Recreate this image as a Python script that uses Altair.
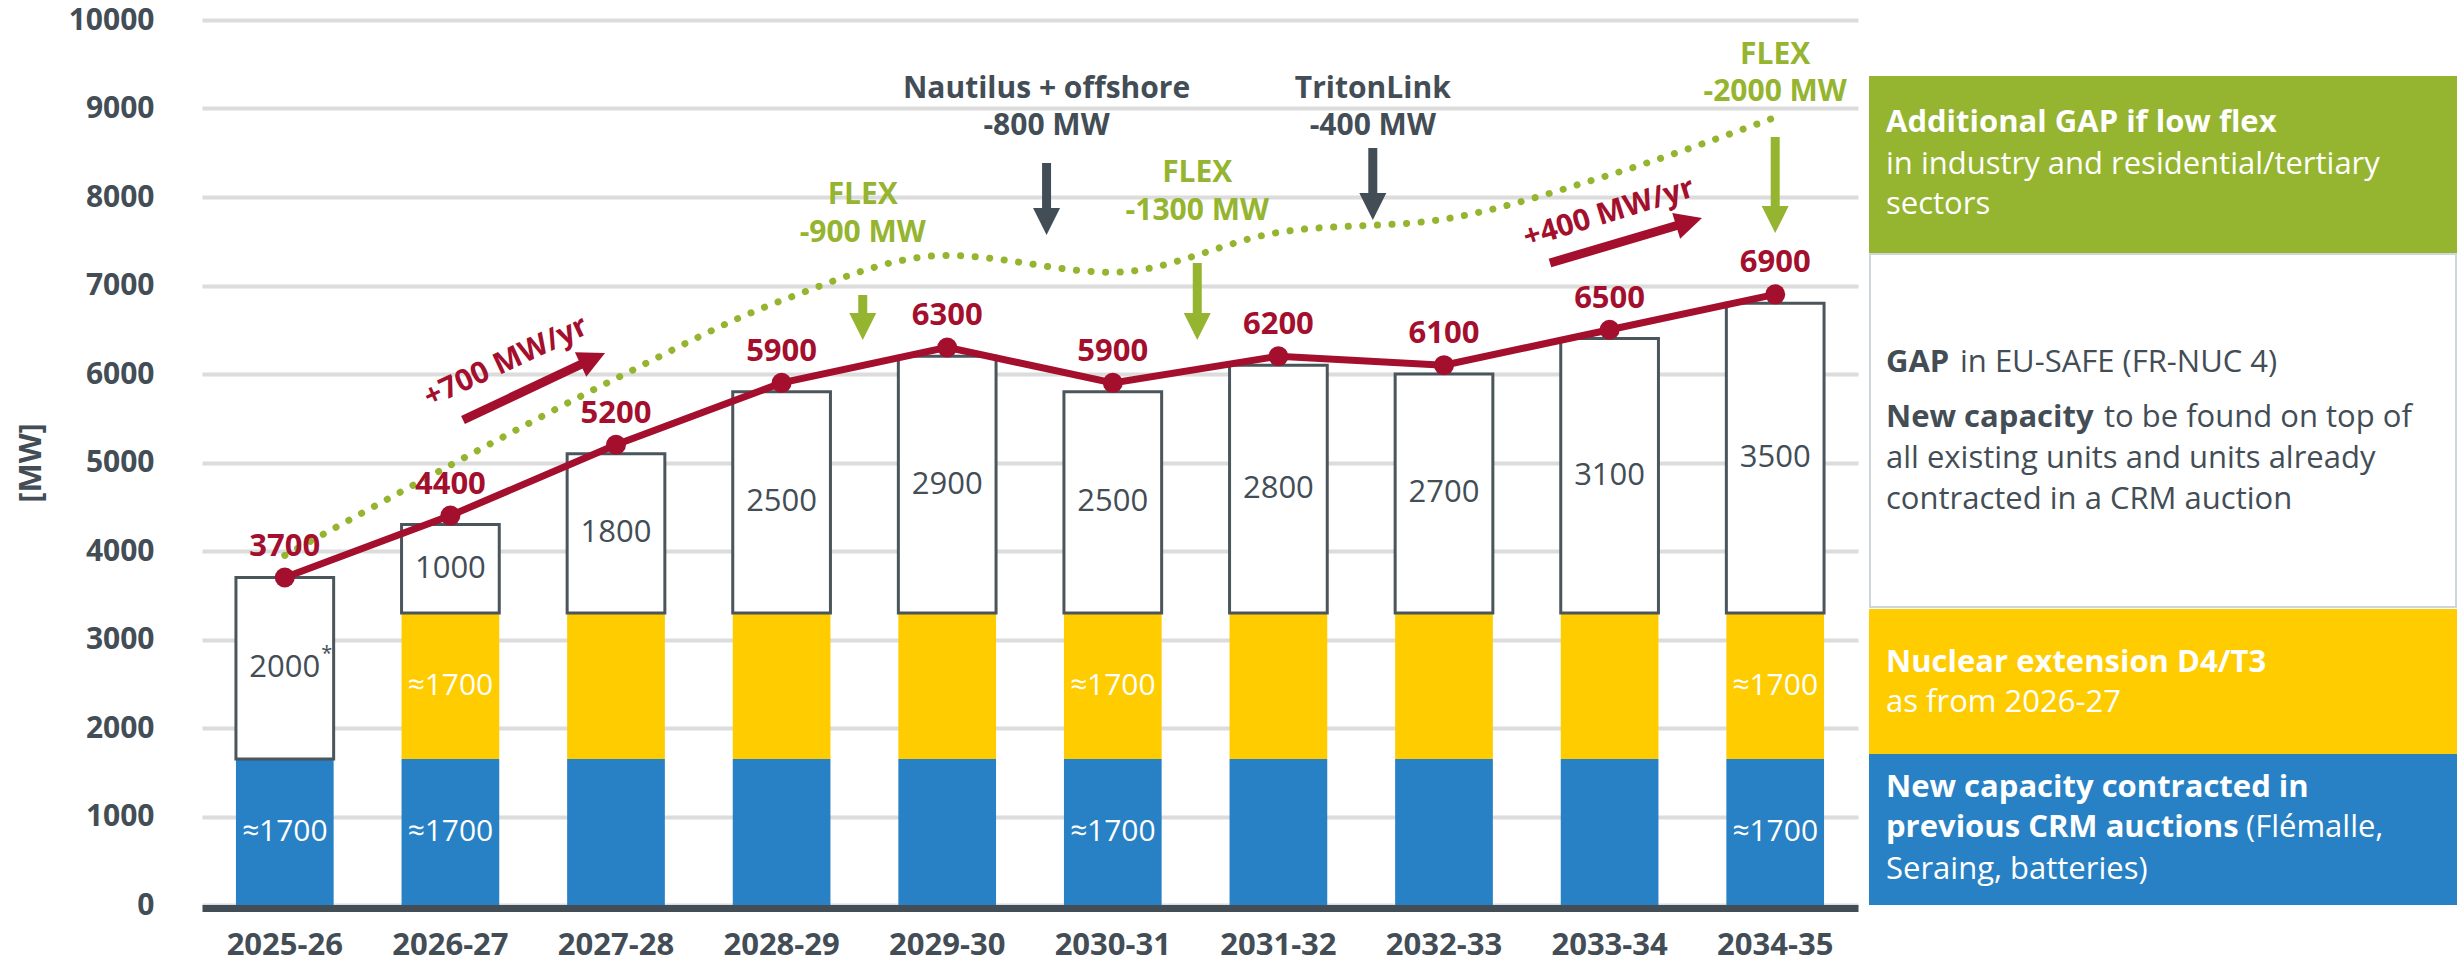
import altair as alt
import pandas as pd

# ---------------- data ----------------
years = ["2025-26", "2026-27", "2027-28", "2028-29", "2029-30",
         "2030-31", "2031-32", "2032-33", "2033-34", "2034-35"]
contracted_mw = [1650, 1650, 1650, 1650, 1650, 1650, 1650, 1650, 1650, 1650]
nuclear_mw = [0, 1650, 1650, 1650, 1650, 1650, 1650, 1650, 1650, 1650]
gap_mw = [2050, 1000, 1800, 2500, 2900, 2500, 2800, 2700, 3100, 3500]
gap_text = ["2000", "1000", "1800", "2500", "2900", "2500", "2800", "2700", "3100", "3500"]
total_gap = [3700, 4400, 5200, 5900, 6300, 5900, 6200, 6100, 6500, 6900]
low_flex_gap = [3950, 4970, 5950, 6830, 7340, 7150, 7600, 7750, 8250, 8900]
contracted_text_years = ["2025-26", "2026-27", "2030-31", "2034-35"]
nuclear_text_years = ["2026-27", "2030-31", "2034-35"]
approx_text = "≈1700"

# annotations: x in category-index units (0..10), y in MW
event_names = ["Nautilus + offshore", "TritonLink"]
event_mw = ["-800 MW", "-400 MW"]
event_x = [5.10, 7.07]
event_name_y = [9220, 9220]
event_mw_y = [8802, 8802]
event_arrow_top = [8384, 8554]
event_arrow_shaft_end = [7731, 7900]
event_arrow_tip = [7571, 7740]

flex_word = ["FLEX", "FLEX", "FLEX"]
flex_mw = ["-900 MW", "-1300 MW", "-2000 MW"]
flex_x = [3.99, 6.01, 9.5]
flex_word_y = [8020, 8271, 9605]
flex_mw_y = [7593, 7842, 9186]
flex_arrow_top = [6893, 7254, 8678]
flex_arrow_shaft_end = [6544, 6544, 7753]
flex_arrow_tip = [6384, 6384, 7593]

trend_text = ["+700 MW/yr", "+400 MW/yr"]
trend_text_x = [1.836, 8.496]
trend_text_y = [6136, 7819]
trend_start_x = [1.576, 8.140]
trend_start_y = [5480, 7254]
trend_shaft_end_x = [2.357, 8.977]
trend_shaft_end_y = [6169, 7718]
trend_tip_x = [2.434, 9.058]
trend_tip_y = [6237, 7763]

# ---------------- styles ----------------
FONT = "Open Sans"
DARK = "#434d56"
BLUE = "#2781c4"
YELLOW = "#ffcc00"
GREEN = "#95b42f"
RED = "#a30f2d"
OUTLINE = "#4b555c"

PLOT_W, PLOT_H = 1656, 885
PAD = {"left": 202, "top": 20, "right": 603, "bottom": 58}

# ---------------- tables ----------------
df = pd.DataFrame({
    "year": years, "contracted": contracted_mw, "nuclear": nuclear_mw,
    "gap": gap_mw, "gap_text": gap_text, "total": total_gap, "low_flex": low_flex_gap,
})
df["c0"] = 0
df["c1"] = df["contracted"]
df["n1"] = df["c1"] + df["nuclear"]
df["g1"] = df["n1"] + df["gap"]
df["c_mid"] = df["c1"] / 2
df["n_mid"] = (df["c1"] + df["n1"]) / 2
df["g_mid"] = (df["n1"] + df["g1"]) / 2
df["total_text"] = df["total"].astype(str)
df["approx"] = approx_text

y_scale = alt.Scale(domain=[0, 10000], nice=False, zero=True)
y_axis = alt.Axis(
    values=list(range(0, 10001, 1000)), format="d", grid=True, gridColor="#dcdcdc", gridWidth=4,
    domain=False, ticks=False, labelPadding=48, labelFont=FONT, labelFontWeight="bold",
    labelFontSize=30, labelColor=DARK, title="[MW]", titleFont=FONT, titleFontSize=31,
    titleFontWeight="bold", titleColor=DARK, titleAngle=270, titleX=-171, titleY=442.5,
    titleAlign="center", titleBaseline="middle",
)
x_axis = alt.Axis(
    title=None, labelAngle=0, ticks=False, grid=False, domainColor=DARK, domainWidth=7,
    offset=3, labelPadding=37, labelBaseline="middle", labelFont=FONT, labelFontSize=31,
    labelFontWeight="bold", labelColor=DARK, zindex=1,
)
x_enc = alt.X("year:N", sort=years, scale=alt.Scale(paddingInner=0.41, paddingOuter=0.205), axis=x_axis)


def Y(field):
    return alt.Y(f"{field}:Q", scale=y_scale, axis=y_axis)


base_chart = alt.Chart(df)
blue_bars = base_chart.mark_bar(color=BLUE).encode(x=x_enc, y=Y("c0"), y2="c1")
yellow_bars = alt.Chart(df[df["nuclear"] > 0]).mark_bar(color=YELLOW).encode(x=x_enc, y=Y("c1"), y2="n1")
gap_bars = base_chart.mark_bar(fill="white", stroke=OUTLINE, strokeWidth=3).encode(x=x_enc, y=Y("n1"), y2="g1")

txt = dict(font=FONT, fontSize=30, align="center", baseline="middle")
blue_text = alt.Chart(df[df["year"].isin(contracted_text_years)]).mark_text(color="white", **txt).encode(
    x=x_enc, y=Y("c_mid"), text="approx:N")
yellow_text = alt.Chart(df[df["year"].isin(nuclear_text_years)]).mark_text(color="white", **txt).encode(
    x=x_enc, y=Y("n_mid"), text="approx:N")
gap_labels = base_chart.mark_text(color=DARK, font=FONT, fontSize=31, align="center", baseline="middle").encode(
    x=x_enc, y=Y("g_mid"), text="gap_text:N")
asterisk = alt.Chart(df.iloc[:1]).mark_text(color=DARK, font=FONT, fontSize=20, dx=42, dy=-14).encode(
    x=x_enc, y=Y("g_mid"), text=alt.value("*"))

flex_line = base_chart.mark_line(color=GREEN, strokeWidth=7, strokeDash=[0.1, 14.5], strokeCap="round",
                                 interpolate="monotone").encode(x=x_enc, y=Y("low_flex"))
red_line = base_chart.mark_line(color=RED, strokeWidth=7).encode(x=x_enc, y=Y("total"))
red_points = base_chart.mark_circle(color=RED, size=400, opacity=1).encode(x=x_enc, y=Y("total"))
red_labels = base_chart.mark_text(color=RED, font=FONT, fontSize=31, fontWeight="bold", dy=-31,
                                  baseline="middle").encode(x=x_enc, y=Y("total"), text="total_text:N")

main = alt.layer(blue_bars, yellow_bars, gap_bars, blue_text, yellow_text, gap_labels, asterisk,
                 flex_line, red_line, red_points, red_labels)

# ---------------- annotations ----------------
u_scale = alt.Scale(domain=[0, 10], nice=False, zero=False)


def U(field):
    return alt.X(f"{field}:Q", scale=u_scale, axis=None)


ev = pd.DataFrame({"u": event_x, "name": event_names, "mw": event_mw, "ny": event_name_y, "my": event_mw_y,
                   "a0": event_arrow_top, "a1": event_arrow_shaft_end, "tip": event_arrow_tip})
fx = pd.DataFrame({"u": flex_x, "name": flex_word, "mw": flex_mw, "ny": flex_word_y, "my": flex_mw_y,
                   "a0": flex_arrow_top, "a1": flex_arrow_shaft_end, "tip": flex_arrow_tip})
tr = pd.DataFrame({"tx": trend_text_x, "ty": trend_text_y, "t": trend_text,
                   "sx": trend_start_x, "sy": trend_start_y, "ex": trend_shaft_end_x, "ey": trend_shaft_end_y,
                   "px": trend_tip_x, "py": trend_tip_y})

DOWN_HEAD = "M-1,-2L1,-2L0,0Z"
RIGHT_HEAD = "M-2,-1L-2,1L0,0Z"
note_txt = dict(font=FONT, fontSize=30, fontWeight="bold", align="center", baseline="middle")

annots = []
for frame, col in ((ev, DARK), (fx, GREEN)):
    c = alt.Chart(frame)
    annots.append(c.mark_text(color=col, **note_txt).encode(x=U("u"), y=Y("ny"), text="name:N"))
    annots.append(c.mark_text(color=col, **note_txt).encode(x=U("u"), y=Y("my"), text="mw:N"))
    annots.append(c.mark_rule(color=col, strokeWidth=9).encode(x=U("u"), y=Y("a0"), y2="a1"))
    annots.append(c.mark_point(shape=DOWN_HEAD, filled=True, size=729, color=col, opacity=1).encode(
        x=U("u"), y=Y("tip")))

for i, ang in enumerate((25, 17)):
    c = alt.Chart(tr.iloc[i:i + 1])
    annots.append(c.mark_text(color=RED, angle=360 - ang, **note_txt).encode(x=U("tx"), y=Y("ty"), text="t:N"))
    annots.append(c.mark_rule(color=RED, strokeWidth=9).encode(x=U("sx"), x2="ex", y=Y("sy"), y2="ey"))
    annots.append(c.mark_point(shape=RIGHT_HEAD, filled=True, size=729, color=RED, opacity=1,
                               angle=360 - ang).encode(x=U("px"), y=Y("py")))

annot_layer = alt.layer(*annots)

# ---------------- side legend (pixel layout) ----------------
leg_boxes = pd.DataFrame({
    "x0": [1668, 1668, 1668, 1668], "x1": [2254, 2254, 2254, 2254],
    "y0": [57, 234, 590, 735], "y1": [232, 587, 735, 884],
    "fill": [GREEN, "#ffffff", YELLOW, BLUE], "stroke": [GREEN, "#cfd6da", YELLOW, BLUE],
})
leg_rect = alt.Chart(leg_boxes).mark_rect(strokeWidth=2).encode(
    x=alt.X("x0:Q", scale=None, axis=None), x2="x1",
    y=alt.Y("y0:Q", scale=None, axis=None), y2="y1",
    fill=alt.Fill("fill:N", scale=None), stroke=alt.Stroke("stroke:N", scale=None))

leg_text = pd.DataFrame([
    (1684, 103, "Additional GAP if low flex", "bold", "#ffffff"),
    (1684, 145, "in industry and residential/tertiary", "normal", "#ffffff"),
    (1684, 185, "sectors", "normal", "#ffffff"),
    (1684, 343, "GAP", "bold", DARK),
    (1758, 343, "in EU-SAFE (FR-NUC 4)", "normal", DARK),
    (1684, 398, "New capacity", "bold", DARK),
    (1902, 398, "to be found on top of", "normal", DARK),
    (1684, 439, "all existing units and units already", "normal", DARK),
    (1684, 480, "contracted in a CRM auction", "normal", DARK),
    (1684, 643, "Nuclear extension D4/T3", "bold", "#ffffff"),
    (1684, 683, "as from 2026-27", "normal", "#ffffff"),
    (1684, 768, "New capacity contracted in", "bold", "#ffffff"),
    (1684, 808, "previous CRM auctions", "bold", "#ffffff"),
    (2044, 808, "(Flémalle,", "normal", "#ffffff"),
    (1684, 850, "Seraing, batteries)", "normal", "#ffffff"),
], columns=["x", "y", "t", "w", "c"])

leg_layers = [leg_rect]
for w in ("bold", "normal"):
    leg_layers.append(alt.Chart(leg_text[leg_text["w"] == w]).mark_text(
        font=FONT, fontSize=31, fontWeight=w, align="left", baseline="middle").encode(
        x=alt.X("x:Q", scale=None, axis=None), y=alt.Y("y:Q", scale=None, axis=None),
        text="t:N", color=alt.Color("c:N", scale=None)))
legend_layer = alt.layer(*leg_layers)

chart = alt.layer(main, annot_layer, legend_layer).resolve_scale(x="independent").properties(
    width=PLOT_W, height=PLOT_H, padding=PAD,
    autosize=alt.AutoSizeParams(type="none"), background="white",
).configure_view(stroke=None)

chart.save("out.html", embed_options={"renderer": "svg", "actions": False})
